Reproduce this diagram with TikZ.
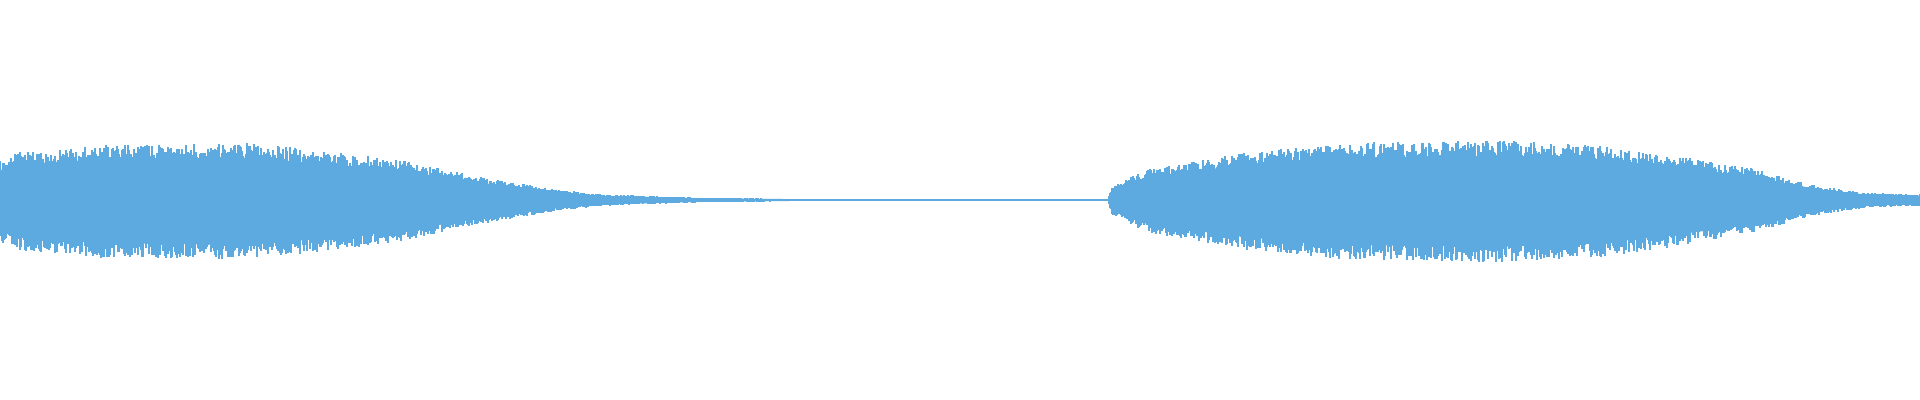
\documentclass[tikz,border=0pt]{standalone}
\definecolor{wave}{HTML}{5DAAE0}
\begin{document}
\begin{tikzpicture}[x=0.01cm,y=-0.01cm]
\pgfmathsetseed{7}
\useasboundingbox (0,0) rectangle (1920,400);
\draw[wave,line width=0.4pt] (0,200) -- (1920,200);
\foreach \xa/\ya/\xb/\yb in {0/35/20/42,20/42/100/48,100/48/250/50,250/50/300/45,300/45/400/35,400/35/470/22,470/22/550/10,550/10/600/5,600/5/700/2,700/2/800/1,1108/1/1112/12,1112/12/1150/28,1150/28/1250/42,1250/42/1350/50,1350/50/1500/52,1500/52/1600/48,1600/48/1650/42,1650/42/1750/28,1750/28/1820/12,1820/12/1870/6,1870/6/1920/5}{
  \fill[wave] (\xa,200-0.85*\ya) -- (\xb,200-0.85*\yb) -- (\xb,200+0.9*\yb) -- (\xa,200+0.9*\ya) -- cycle;
  \foreach \x in {\xa,...,\xb}{
    \pgfmathsetmacro{\a}{\ya+(\yb-\ya)*(\x-\xa)/max(\xb-\xa,1)}
    \pgfmathsetmacro{\t}{\a*(0.8+0.35*rnd)}
    \pgfmathsetmacro{\b}{\a*(0.85+0.35*rnd)}
    \draw[wave,line width=0.5pt] (\x,200-\t) -- (\x,200+\b);
  }
}
\end{tikzpicture}
\end{document}
